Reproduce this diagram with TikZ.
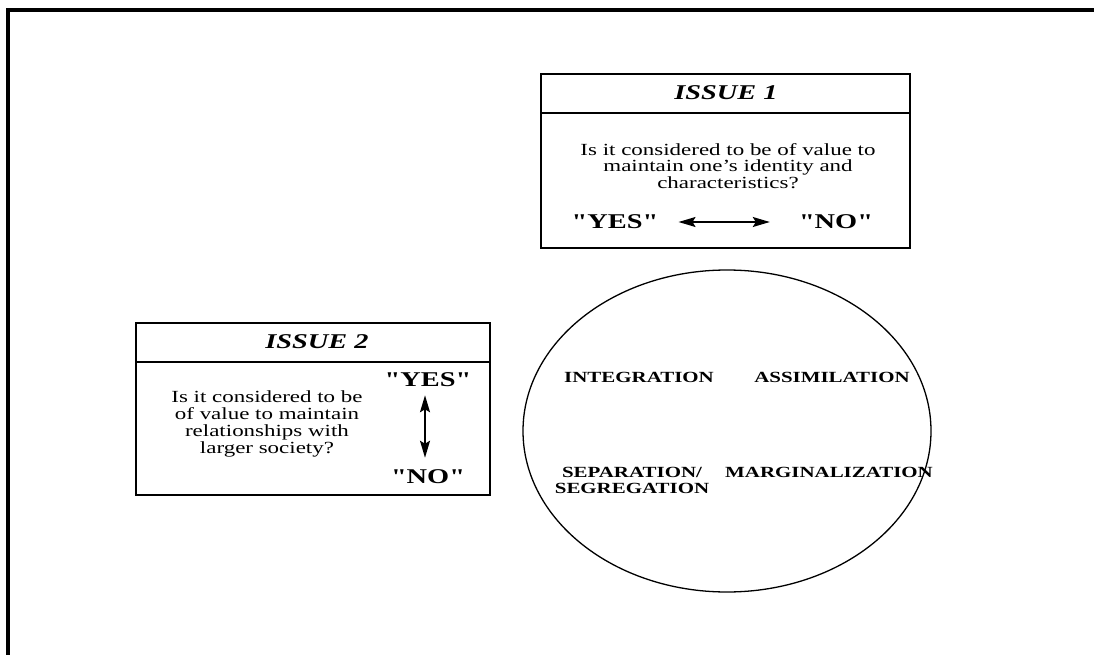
\documentclass[tikz,border=0pt]{standalone}
\usepackage{fontspec}
\setmainfont[FakeStretch=1.35,Ligatures=TeXOff]{Liberation Serif}
\usetikzlibrary{shapes.geometric,arrows.meta}
\begin{document}
\begin{tikzpicture}[x=1pt,y=-1pt,
  boxline/.style={line width=1.3pt},
  frameline/.style={line width=4pt},
  body/.style={inner sep=0pt,align=center,font=\fontsize{17}{16.8}\selectfont},
  head/.style={inner sep=0pt,font=\fontsize{21}{21}\selectfont\bfseries\itshape},
  answer/.style={inner sep=0pt,font=\fontsize{21}{21}\selectfont\bfseries},
  strat/.style={inner sep=0pt,align=center,font=\fontsize{15.5}{16}\selectfont\bfseries},
  arr/.style={line width=1.8pt,{Stealth[length=17pt,width=10pt,inset=3pt]}-{Stealth[length=17pt,width=10pt,inset=3pt]}}
]
\useasboundingbox (0,0) rectangle (1094,655);
% frame (top and left only)
\draw[frameline] (1094,10) -- (8,10) -- (8,655);
% Issue 1 box
\coordinate (b1tl) at (541,74);
\coordinate (b1br) at (910,248);
\draw[boxline] (b1tl) rectangle (b1br);
\draw[boxline] (541,113) -- (910,113);
\node[head] (h1) at (726,93) {ISSUE 1};
\node[body] (q1) at (728,166) {Is it considered to be of value to\\maintain one’s identity and\\characteristics?};
\node[answer] (yes1) at (615,222) {"YES"};
\node[answer] (no1) at (836,222) {"NO"};
\draw[arr,shorten <=20pt,shorten >=29pt] (yes1.east) -- (no1.west);
% Issue 2 box
\draw[boxline] (136,323) rectangle (490,495);
\draw[boxline] (136,362) -- (490,362);
\node[head] (h2) at (317,342) {ISSUE 2};
\node[body] (q2) at (267,424) {Is it considered to be\\of value to maintain\\relationships with\\larger society?};
\node[answer] (yes2) at (428,380) {"YES"};
\node[answer] (no2) at (428,477) {"NO"};
\draw[arr,shorten <=8pt,shorten >=12pt] ([xshift=-3pt]yes2.south) -- ([xshift=-3pt]no2.north);
% ellipse with strategies
\node[draw,ellipse,boxline,minimum width=408pt,minimum height=322pt,inner sep=0pt] (circ) at (727,431) {};
\node[strat] (integ) at (639,377) {INTEGRATION};
\node[strat] (assim) at (832,377) {ASSIMILATION};
\node[strat] (separ) at (632,480) {SEPARATION/\\SEGREGATION};
\node[strat] (marg) at (829,472) {MARGINALIZATION};
\end{tikzpicture}
\end{document}
